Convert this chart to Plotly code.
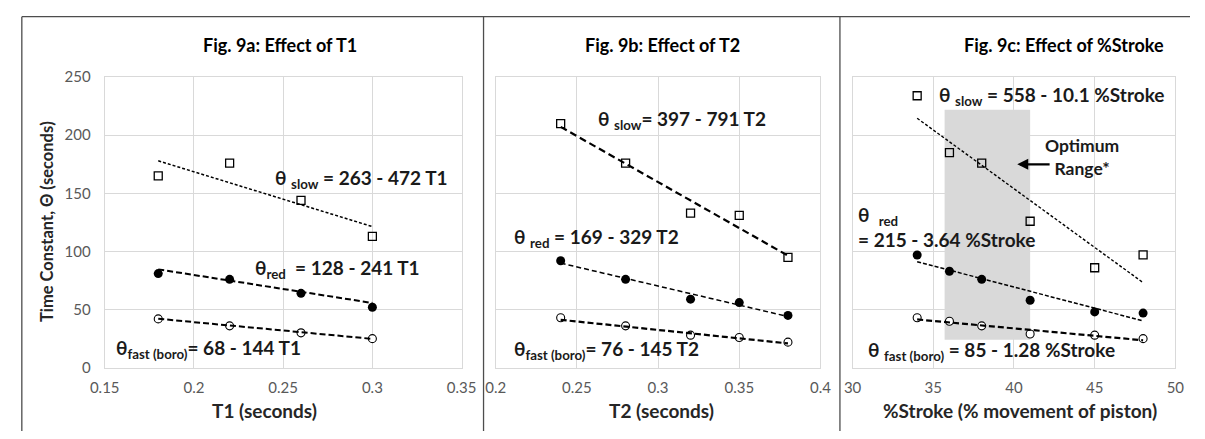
import plotly.graph_objects as go

W, H = 1205, 439

# ---------------- data ----------------
# Fig. 9a : effect of T1
t1 = [0.18, 0.22, 0.26, 0.30]
t1_slow = [165, 176, 144, 113]
t1_red = [81, 76, 64, 52]
t1_fast = [42, 36, 30, 25]
t1_trend_x = [0.18, 0.30]
t1_slow_trend = [178.0, 121.4]
t1_red_trend = [84.6, 55.7]
t1_fast_trend = [42.1, 24.8]

# Fig. 9b : effect of T2
t2 = [0.24, 0.28, 0.32, 0.35, 0.38]
t2_slow = [210, 176, 133, 131, 95]
t2_red = [92, 76, 59, 56, 45]
t2_fast = [43, 36, 28, 26, 22]
t2_trend_x = [0.24, 0.38]
t2_slow_trend = [207.2, 96.4]
t2_red_trend = [90.0, 44.0]
t2_fast_trend = [41.2, 20.9]

# Fig. 9c : effect of %Stroke
stroke = [34, 36, 38, 41, 45, 48]
st_slow = [234, 185, 176, 126, 86, 97]
st_red = [97, 83, 76, 58, 48, 47]
st_fast = [43, 40, 36, 29, 28, 25]
st_trend_x = [34, 48]
st_slow_trend = [214.6, 73.2]
st_red_trend = [91.2, 40.3]
st_fast_trend = [41.5, 23.6]

optimum_range = [35.7, 41.0]
optimum_theta = [24, 222]

titles = ["Fig. 9a: Effect of T1", "Fig. 9b: Effect of T2", "Fig. 9c: Effect of %Stroke"]
xtitles = ["T1 (seconds)", "T2 (seconds)", "%Stroke (% movement of piston)"]
ytitle = "Time Constant, Θ (seconds)"
eq_a = ["θ <sub>slow</sub> = 263 - 472 T1", "θ<sub>red</sub>  = 128 - 241 T1", "θ<sub>fast (boro)</sub>= 68 - 144 T1"]
eq_b = ["θ <sub>slow</sub>= 397 - 791 T2", "θ <sub>red</sub> = 169 - 329 T2", "θ<sub>fast (boro)</sub>= 76 - 145 T2"]
eq_c = ["θ <sub>slow</sub> = 558 - 10.1 %Stroke", "θ  <sub>red</sub><br>= 215 - 3.64 %Stroke", "θ <sub>fast (boro)</sub> = 85 - 1.28 %Stroke"]

# ---------------- styling ----------------
FONT = "Lato, Carlito, Calibri, sans-serif"
INK = "#1a1a1a"
TICK = "#595959"
GRID = "#d9d9d9"


def px_x(p):
    return p / W


def px_y(p):
    return (H - p) / H


fig = go.Figure()

panels = [
    ("x", "y", t1, t1_slow, t1_red, t1_fast, t1_trend_x, t1_slow_trend, t1_red_trend, t1_fast_trend,
     [(1.5, "3px,2px"), (2.0, "6px,3px"), (2.0, "6px,3px")]),
    ("x2", "y2", t2, t2_slow, t2_red, t2_fast, t2_trend_x, t2_slow_trend, t2_red_trend, t2_fast_trend,
     [(2.2, "7px,4px"), (1.5, "5px,3px"), (2.2, "6px,3px")]),
    ("x3", "y3", stroke, st_slow, st_red, st_fast, st_trend_x, st_slow_trend, st_red_trend, st_fast_trend,
     [(1.4, "3px,2px"), (1.5, "4px,2px"), (2.2, "6px,3px")]),
]

for xa, ya, xs, slow, red, fast, tx, ts, tr, tf, styles in panels:
    fig.add_trace(go.Scatter(x=xs, y=slow, xaxis=xa, yaxis=ya, mode="markers",
                             marker=dict(symbol="square-open", size=8, color="#000",
                                         line=dict(width=1.3, color="#000")),
                             showlegend=False))
    fig.add_trace(go.Scatter(x=xs, y=red, xaxis=xa, yaxis=ya, mode="markers",
                             marker=dict(symbol="circle", size=9, color="#000"),
                             showlegend=False))
    fig.add_trace(go.Scatter(x=xs, y=fast, xaxis=xa, yaxis=ya, mode="markers",
                             marker=dict(symbol="circle", size=8, color="#fff",
                                         line=dict(width=1.1, color="#000")),
                             showlegend=False))
    for ys, (lw, dash) in zip([ts, tr, tf], styles):
        fig.add_trace(go.Scatter(x=tx, y=ys, xaxis=xa, yaxis=ya, mode="lines",
                                 line=dict(color="#000", width=lw, dash=dash),
                                 showlegend=False, hoverinfo="skip"))

ydom = [px_y(373), px_y(70)]
common_x = dict(showgrid=True, gridcolor=GRID, gridwidth=1, showline=True, linecolor=GRID,
                mirror=True, zeroline=False, ticks="",
                tickfont=dict(family=FONT, size=15, color=TICK), ticklabelstandoff=6)
common_y = dict(showgrid=True, gridcolor=GRID, gridwidth=1, showline=True, linecolor=GRID,
                mirror=True, zeroline=False, ticks="", range=[0, 250], tick0=0, dtick=50,
                tickfont=dict(family=FONT, size=15, color=TICK))

fig.update_layout(
    width=W, height=H,
    margin=dict(l=0, r=0, t=0, b=0),
    paper_bgcolor="white", plot_bgcolor="white",
    font=dict(family=FONT, color=INK),
    xaxis=dict(domain=[px_x(92), px_x(458)], range=[0.15, 0.35], tick0=0.15, dtick=0.05, anchor="y",
               **common_x),
    yaxis=dict(domain=ydom, anchor="x", showticklabels=True, ticklabelstandoff=10, **common_y),
    xaxis2=dict(domain=[px_x(493), px_x(826)], range=[0.2, 0.4], tick0=0.2, dtick=0.05, anchor="y2",
                **common_x),
    yaxis2=dict(domain=ydom, anchor="x2", showticklabels=False, **common_y),
    xaxis3=dict(domain=[px_x(859), px_x(1190)], range=[30, 50], tick0=30, dtick=5, anchor="y3",
                **common_x),
    yaxis3=dict(domain=ydom, anchor="x3", showticklabels=False, **common_y),
)

# optimum range band
fig.add_shape(type="rect", xref="x3", yref="y3", x0=optimum_range[0], x1=optimum_range[1],
              y0=optimum_theta[0], y1=optimum_theta[1], fillcolor="#d9d9d9", line=dict(width=0),
              layer="below")

# frame lines
LINE = dict(color="#4d4d4d", width=1.3)
fig.add_shape(type="line", xref="paper", yref="paper", x0=px_x(7), x1=1, y0=px_y(7), y1=px_y(7), line=LINE)
for xp in [7, 480.5, 846]:
    fig.add_shape(type="line", xref="paper", yref="paper", x0=px_x(xp), x1=px_x(xp), y0=0, y1=px_y(7),
                  line=LINE)

ann = []


def add_text(text, x, y, xref, yref, size, xanchor="left", yanchor="middle", color=INK, angle=0, align="left"):
    ann.append(dict(text=text, x=x, y=y, xref=xref, yref=yref, showarrow=False, xanchor=xanchor,
                    yanchor=yanchor, align=align, textangle=angle,
                    font=dict(family=FONT, size=size, color=color)))


# titles
for t, cx in zip(titles, [272, 664, 1076]):
    add_text(f"<b>{t}</b>", px_x(cx), px_y(37), "paper", "paper", 18, xanchor="center", color="#000")
# axis titles
for t, cx in zip(xtitles, [256, 663, 1031]):
    add_text(f"<b>{t}</b>", px_x(cx), px_y(418), "paper", "paper", 19, xanchor="center", color="#262626")
add_text(f"<b>{ytitle}</b>", px_x(33), px_y(221), "paper", "paper", 16.5, xanchor="center", color="#262626", angle=-90)

EQ = 19
# panel a equations
add_text(f"<b>{eq_a[0]}</b>", 0.2443, 162, "x", "y", EQ)
add_text(f"<b>{eq_a[1]}</b>", 0.2333, 85, "x", "y", EQ)
add_text(f"<b>{eq_a[2]}</b>", 0.1551, 15.7, "x", "y", EQ)
# panel b equations
add_text(f"<b>{eq_b[0]}</b>", 0.2619, 213, "x2", "y2", EQ)
add_text(f"<b>{eq_b[1]}</b>", 0.2102, 112, "x2", "y2", EQ)
add_text(f"<b>{eq_b[2]}</b>", 0.2102, 15, "x2", "y2", EQ)
# panel c equations
add_text(f"<b>{eq_c[0]}</b>", 35.2, 234, "x3", "y3", EQ)
add_text(f"<b>{eq_c[1]}</b>", 30.2, 121, "x3", "y3", EQ)
add_text(f"<b>{eq_c[2]}</b>", 30.8, 14, "x3", "y3", EQ)

# optimum range label + arrow
add_text("<b>Optimum<br>Range*</b>", 44.2, 181, "x3", "y3", 17.5, xanchor="center", align="center")
ann.append(dict(x=40.2, y=175, xref="x3", yref="y3", ax=42.3, ay=175, axref="x3", ayref="y3",
                text="", showarrow=True, arrowhead=2, arrowsize=1, arrowwidth=2.2, arrowcolor="#000"))

fig.update_layout(annotations=ann)

fig.write_html("out.html")
